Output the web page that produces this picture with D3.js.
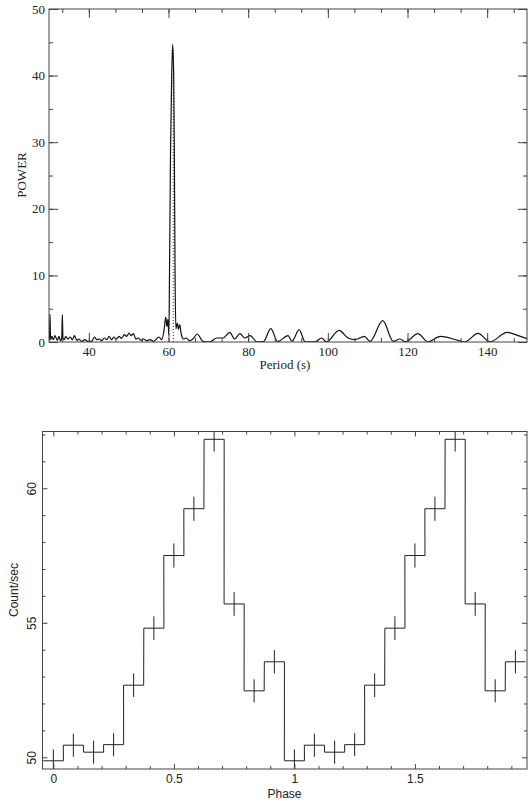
<!DOCTYPE html>
<meta charset="utf-8">
<html>
<head>
<title>Periodogram and folded light curve</title>
<style>
  body { margin: 0; background: #fff; }
  .frame { fill: none; stroke: #444; stroke-width: 1; }
  .axis line { stroke: #444; stroke-width: 1; }
  .axis path { display: none; }
  .serif { font-family: "Liberation Serif", "DejaVu Serif", serif; font-size: 13px; fill: #222; }
  .sans { font-family: "Liberation Sans", Arial, sans-serif; font-size: 12px; fill: #222; }
</style>
<script src="https://d3js.org/d3.v7.min.js"></script>
</head>
<body>
<svg width="529" height="801"></svg>
<script>
  // ---- top panel: power spectrum ----
  var periods = [30.0, 30.1, 30.25, 30.4, 30.7, 31.1, 31.5, 32.1, 32.5, 32.9, 33.2, 33.35, 33.5, 33.8,
      34.2, 34.7, 35.3, 35.9, 36.4, 37.0, 37.4, 38.2, 39.0, 39.7, 40.7, 41.4, 42.0, 42.6, 43.2,
      43.9, 44.5, 45.1, 45.7, 46.3, 46.9, 47.6, 48.2, 48.9, 49.5, 50.1, 50.6, 51.2, 51.8, 52.4,
      53.1, 53.8, 54.5, 55.4, 56.2, 57.0, 57.6, 58.3, 58.9, 59.3, 59.6, 59.85, 60.1, 60.25, 60.5,
      60.8, 61.05, 61.3, 61.45, 61.65, 61.85, 62.2, 62.5, 62.8, 63.2, 63.7, 64.5, 65.3, 66.2,
      67.2, 68.7, 70.4, 72.1, 73.7, 75.4, 76.6, 77.9, 79.2, 80.5, 82.2, 83.8, 85.7, 87.4, 90.0,
      91.0, 92.8, 94.3, 96.8, 98.4, 99.7, 102.8, 105.1, 106.8, 109.2, 110.6, 113.8, 116.4, 118.1,
      119.5, 122.6, 125.2, 128.2, 132.7, 134.4, 137.7, 140.7, 145.0, 147.8, 150.0];
  var powers = [0.3, 0.5, 4.2, 0.3, 0.85, 0.35, 0.95, 0.25, 0.85, 0.2, 0.6, 4.1, 0.6, 0.35,
      0.85, 0.45, 0.75, 0.35, 0.95, 0.2, 0.45, 0.1, 0.35, 0.1, 0.1, 0.75, 0.35, 0.45, 0.2,
      0.6, 0.35, 0.85, 0.35, 0.75, 0.45, 0.85, 0.55, 1.1, 0.85, 1.35, 0.95, 1.25, 0.45, 0.6,
      0.25, 0.45, 0.2, 0.35, 0.1, 0.45, 0.75, 0.35, 1.85, 3.75, 2.35, 3.4, 1.0, 10, 28,
      40, 44.7, 40, 30, 10, 2.0, 2.85, 1.9, 2.6, 1.2, 0.45, 0.6, 0.2, 0.5,
      1.2, 0.1, 0.02, 0.6, 0.6, 1.45, 0.45, 1.25, 0.6, 0.95, 0.02, 0.05, 2.0, 0.05, 0.95,
      0.1, 1.85, 0.02, 0.02, 0.6, 0.02, 1.75, 0.6, 0.35, 0.85, 0.1, 3.2, 0.1, 0.45,
      0.02, 1.25, 0.02, 0.85, 0.25, 0.02, 1.3, 0.02, 1.45, 0.95, 0.5];
  var bestPeriod = 61.2, bestPower = 44;
  var periodTicks = [40, 60, 80, 100, 120, 140];
  var powerTicks = [0, 10, 20, 30, 40, 50];

  // ---- bottom panel: folded light curve ----
  var phases = [0, 0.083, 0.167, 0.25, 0.333, 0.417, 0.5, 0.583, 0.667, 0.75, 0.833, 0.917,
      1, 1.083, 1.167, 1.25, 1.333, 1.417, 1.5, 1.583, 1.667, 1.75, 1.833, 1.917];
  var rates = [49.87, 50.45, 50.19, 50.47, 52.68, 54.8, 57.5, 59.24, 61.82, 55.7, 52.47, 53.55,
      49.87, 50.45, 50.19, 50.47, 52.68, 54.8, 57.5, 59.24, 61.82, 55.7, 52.47, 53.55];
  var rateErrors = [0.42, 0.43, 0.43, 0.43, 0.44, 0.44, 0.45, 0.45, 0.46, 0.44, 0.43, 0.43,
      0.42, 0.43, 0.43, 0.43, 0.44, 0.44, 0.45, 0.45, 0.46, 0.44, 0.43, 0.43];
  var binHalf = 1 / 24;
  var phaseTicks = [0, 0.5, 1, 1.5];
  var rateTicks = [50, 55, 60];

  var svg = d3.select("svg");

  // draws inward ticks on all four sides of a box
  function boxAxes(g, x, y, xMaj, xMin, yMaj, yMin, majLen, minLen, xFmt, yFmt) {
    var x0 = x.range()[0], x1 = x.range()[1], y0 = y.range()[0], y1 = y.range()[1];
    g.append("g").attr("class", "axis").attr("transform", "translate(0," + y0 + ")")
        .call(d3.axisBottom(x).tickValues(xMin).tickSize(-minLen).tickFormat(""));
    g.append("g").attr("class", "axis").attr("transform", "translate(0," + y1 + ")")
        .call(d3.axisTop(x).tickValues(xMin).tickSize(-minLen).tickFormat(""));
    g.append("g").attr("class", "axis").attr("transform", "translate(0," + y1 + ")")
        .call(d3.axisTop(x).tickValues(xMaj).tickSize(-majLen).tickFormat(""));
    g.append("g").attr("class", "axis").attr("transform", "translate(" + x0 + ",0)")
        .call(d3.axisLeft(y).tickValues(yMin).tickSize(-minLen).tickFormat(""));
    g.append("g").attr("class", "axis").attr("transform", "translate(" + x1 + ",0)")
        .call(d3.axisRight(y).tickValues(yMin).tickSize(-minLen).tickFormat(""));
    g.append("g").attr("class", "axis").attr("transform", "translate(" + x1 + ",0)")
        .call(d3.axisRight(y).tickValues(yMaj).tickSize(-majLen).tickFormat(""));
    var xb = g.append("g").attr("class", "axis").attr("transform", "translate(0," + y0 + ")")
        .call(d3.axisBottom(x).tickValues(xMaj).tickSize(-majLen).tickPadding(5).tickFormat(xFmt));
    var yl = g.append("g").attr("class", "axis").attr("transform", "translate(" + x0 + ",0)")
        .call(d3.axisLeft(y).tickValues(yMaj).tickSize(-majLen).tickPadding(4).tickFormat(yFmt));
    xb.attr("font-family", null).attr("font-size", null);
    yl.attr("font-family", null).attr("font-size", null);
    g.append("rect").attr("class", "frame")
        .attr("x", x0).attr("y", y1).attr("width", x1 - x0).attr("height", y0 - y1);
    return { xb: xb, yl: yl };
  }

  // top panel
  var xP = d3.scaleLinear().domain([30, 150]).range([49, 527]);
  var yP = d3.scaleLinear().domain([0, 50]).range([342, 9]);
  var gTop = svg.append("g");

  var defs = svg.append("defs");
  defs.append("clipPath").attr("id", "clipTop")
      .append("rect").attr("x", 49).attr("y", 9).attr("width", 478).attr("height", 333);

  gTop.append("line")
      .attr("x1", xP(bestPeriod)).attr("x2", xP(bestPeriod))
      .attr("y1", yP(0)).attr("y2", yP(bestPower))
      .attr("stroke", "#333").attr("stroke-width", 1).attr("stroke-dasharray", "1,2");

  gTop.append("path")
      .datum(periods.map(function (p, i) { return [p, powers[i]]; }))
      .attr("clip-path", "url(#clipTop)")
      .attr("fill", "none").attr("stroke", "#111").attr("stroke-width", 1.2)
      .attr("d", d3.line()
          .x(function (d) { return xP(d[0]); })
          .y(function (d) { return yP(d[1]); })
          .curve(d3.curveMonotoneX));

  var ta = boxAxes(gTop, xP, yP, periodTicks, d3.range(0, 151, 20 / 3).filter(function (v) { return v > 30.5 && v < 149.5; }),
      powerTicks, d3.range(5, 50, 5), 9, 4, d3.format("d"), d3.format("d"));
  ta.xb.selectAll("text").attr("class", "serif");
  ta.yl.selectAll("text").attr("class", "serif");

  gTop.append("text").attr("class", "serif")
      .attr("x", 285).attr("y", 369).attr("text-anchor", "middle")
      .text("Period (s)");
  gTop.append("text").attr("class", "serif")
      .attr("transform", "translate(26,175) rotate(-90)").attr("text-anchor", "middle")
      .text("POWER");

  // bottom panel
  var xF = d3.scaleLinear().domain([-0.045, 1.965]).range([42.5, 527]);
  var yF = d3.scaleLinear().domain([49.565, 62.11]).range([769, 431.5]);
  var gBot = svg.append("g");

  defs.append("clipPath").attr("id", "clipBot")
      .append("rect").attr("x", 42.5).attr("y", 431.5).attr("width", 484.5).attr("height", 337.5);

  var steps = [];
  phases.forEach(function (p, i) {
    steps.push([p - binHalf, rates[i]]);
    steps.push([p + binHalf, rates[i]]);
  });
  gBot.append("path")
      .datum(steps)
      .attr("clip-path", "url(#clipBot)")
      .attr("fill", "none").attr("stroke", "#222").attr("stroke-width", 1)
      .attr("d", d3.line()
          .x(function (d) { return xF(d[0]); })
          .y(function (d) { return yF(d[1]); }));

  gBot.append("g").attr("clip-path", "url(#clipBot)")
      .selectAll("line").data(phases).enter().append("line")
      .attr("x1", function (d) { return xF(d); })
      .attr("x2", function (d) { return xF(d); })
      .attr("y1", function (d, i) { return yF(rates[i] - rateErrors[i]); })
      .attr("y2", function (d, i) { return yF(rates[i] + rateErrors[i]); })
      .attr("stroke", "#222").attr("stroke-width", 1);

  var ba = boxAxes(gBot, xF, yF, phaseTicks, d3.range(0, 2, 0.1).filter(function (v) { return Math.abs(v * 2 - Math.round(v * 2)) > 1e-6; }),
      rateTicks, d3.range(50, 63, 1).filter(function (v) { return v % 5 !== 0; }), 5, 3, d3.format("~g"), d3.format("d"));
  ba.xb.selectAll("text").attr("class", "sans").attr("dy", "0.75em");
  ba.yl.selectAll("text").attr("class", "sans")
      .attr("x", null).attr("dy", null)
      .attr("text-anchor", "middle").attr("dominant-baseline", "central")
      .attr("transform", "translate(-10.5,0) rotate(-90)");

  gBot.append("text").attr("class", "sans")
      .attr("x", 284.5).attr("y", 798).attr("text-anchor", "middle")
      .text("Phase");
  gBot.append("text").attr("class", "sans")
      .attr("transform", "translate(14,590) rotate(-90)").attr("text-anchor", "middle")
      .attr("dominant-baseline", "central")
      .text("Count/sec");
</script>
</body>
</html>
